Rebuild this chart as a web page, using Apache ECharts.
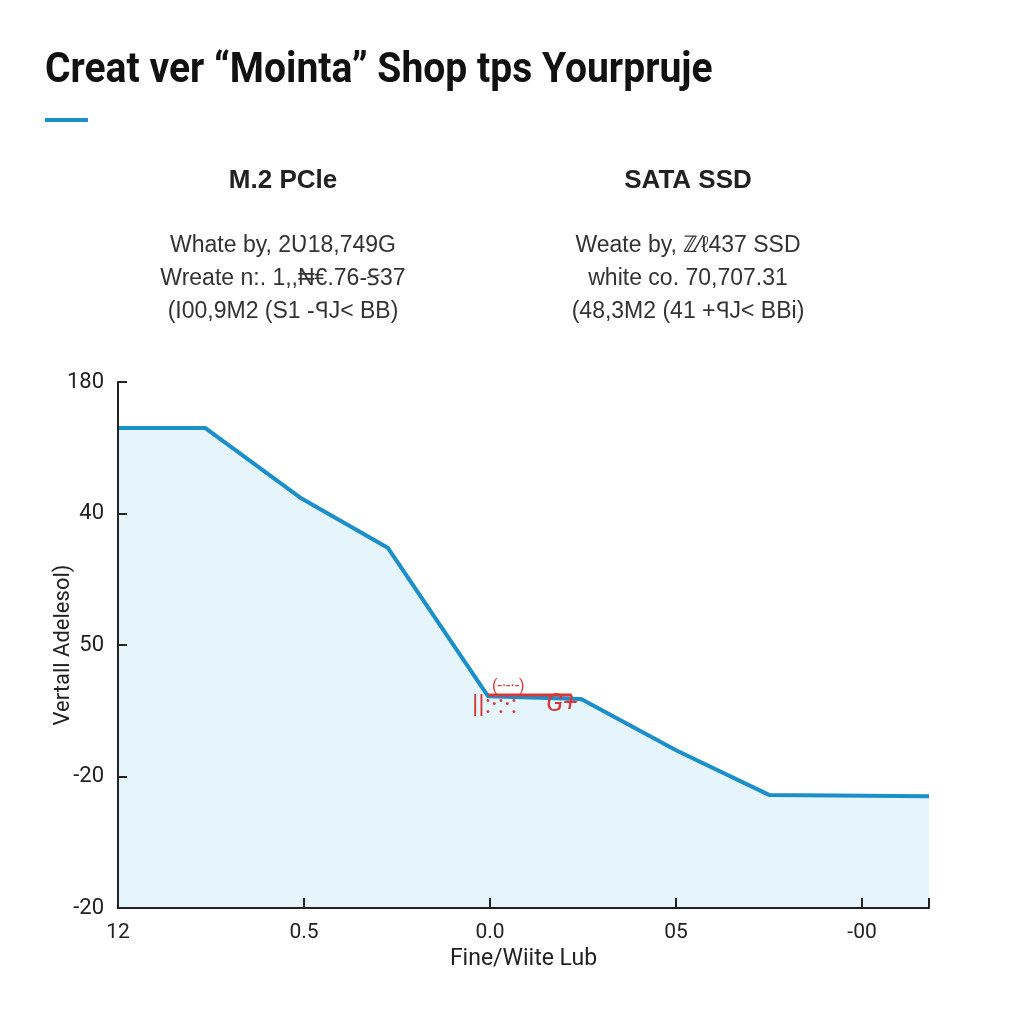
<!DOCTYPE html>
<html>
<head>
<meta charset="utf-8">
<script src="https://cdn.jsdelivr.net/npm/echarts@6/dist/echarts.min.js"></script>
<style>html,body{margin:0;padding:0;background:#fff}#c{width:1024px;height:1024px}</style>
</head>
<body>
<div id="c"></div>
<script>
// ---- data ----
const xTickLabels = ['12', '0.5', '0.0', '05', '-00'];
const yTickLabels = ['-20', '-20', '50', '40', '180'];
const seriesX = [0, 0.47, 0.98, 1.45, 1.99, 2.49, 3.0, 3.5, 4.36];
const seriesY = [3.65, 3.65, 3.12, 2.74, 1.61, 1.59, 1.20, 0.86, 0.85];
const annotX = [1.99, 2.44];
const annotY = [1.62, 1.62];
const title = 'Creat ver “Mointa” Shop tps Yourpruje';
const leftHead = 'M.2 PCle';
const leftLines = ['Whate by, 2Ʋ18,749G', 'Wreate n:. 1,,₦€.76-Ꞩ37', '(I00,9M2 (S1 -ꟼJ< BB)'];
const rightHead = 'SATA SSD';
const rightLines = ['Weate by, ℤ⁄ℓ437 SSD', 'white co. 70,707.31', '(48,3M2 (41 +ꟼJ< BBi)'];
const yName = 'Vertall Adelesol)';
const xName = 'Fine/Wiite Lub';

const chart = echarts.init(document.getElementById('c'));
const txtFont = 'Roboto, "Liberation Sans", sans-serif';
const bodyFont = '"Liberation Sans", Arial, sans-serif';
const g = [
  {type:'text', x:45, y:71, scaleX:0.93, z:100, style:{text:title, font:'bold 42px Roboto, sans-serif', fill:'#111', verticalAlign:'middle'}},
  {type:'rect', shape:{x:45, y:118, width:43, height:4}, style:{fill:'#1a8fc9'}},
  {type:'text', x:283, y:181, z:100, style:{text:leftHead, font:'bold 26px '+bodyFont, fill:'#222', align:'center', verticalAlign:'middle'}},
  {type:'text', x:688, y:181, z:100, style:{text:rightHead, font:'bold 26px '+bodyFont, fill:'#222', align:'center', verticalAlign:'middle'}}
];
leftLines.forEach((t,i)=>g.push({type:'text', x:283, y:246+i*33, z:100, style:{text:t, font:'23px '+bodyFont, fill:'#333', align:'center', verticalAlign:'middle'}}));
rightLines.forEach((t,i)=>g.push({type:'text', x:688, y:246+i*33, z:100, style:{text:t, font:'23px '+bodyFont, fill:'#333', align:'center', verticalAlign:'middle'}}));
g.push({type:'text', x:472, y:706, z:100, style:{text:'||:·:·:', font:'26px '+txtFont, fill:'#d93838', verticalAlign:'middle'}});
g.push({type:'text', x:492, y:687, z:100, style:{text:'(-·-·-)', font:'16px '+txtFont, fill:'#d93838', verticalAlign:'middle'}});
g.push({type:'text', x:546, y:704, z:100, style:{text:'G+', font:'italic 26px '+txtFont, fill:'#d93838', verticalAlign:'middle'}});

chart.setOption({
  animation:false,
  backgroundColor:'#fff',
  graphic:g,
  grid:{left:118, right:95, top:382, bottom:116, containLabel:false},
  xAxis:{
    type:'value', min:0, max:4.36, interval:1, z:10,
    name:xName, nameLocation:'middle', nameGap:40,
    nameTextStyle:{fontSize:23, color:'#222', fontFamily:txtFont},
    axisLine:{show:true, lineStyle:{color:'#222', width:2}},
    axisTick:{show:true, inside:true, length:10, lineStyle:{color:'#222', width:2}},
    axisLabel:{fontSize:21, color:'#222', fontFamily:txtFont, margin:14, formatter:v=>xTickLabels[v] ?? ''},
    splitLine:{show:false}
  },
  yAxis:{
    type:'value', min:0, max:4, interval:1, z:10,
    name:yName, nameLocation:'middle', nameGap:44, nameRotate:90, nameMoveOverlap:false,
    nameTextStyle:{fontSize:22, color:'#222', fontFamily:txtFont},
    axisLine:{show:true, lineStyle:{color:'#222', width:2}},
    axisTick:{show:true, inside:true, length:9, lineStyle:{color:'#222', width:2}},
    axisLabel:{fontSize:22, color:'#222', fontFamily:txtFont, margin:14, formatter:v=>yTickLabels[v] ?? ''},
    splitLine:{show:false}
  },
  series:[
    {type:'line', data:seriesX.map((x,i)=>[x,seriesY[i]]), symbol:'none',
     lineStyle:{color:'#1a8fc9', width:4}, areaStyle:{color:'#e6f4fc', opacity:1}, z:2},
    {type:'line', data:annotX.map((x,i)=>[x,annotY[i]]), symbol:'none',
     lineStyle:{color:'#d93838', width:3}, z:3}
  ]
});
</script>
</body>
</html>
